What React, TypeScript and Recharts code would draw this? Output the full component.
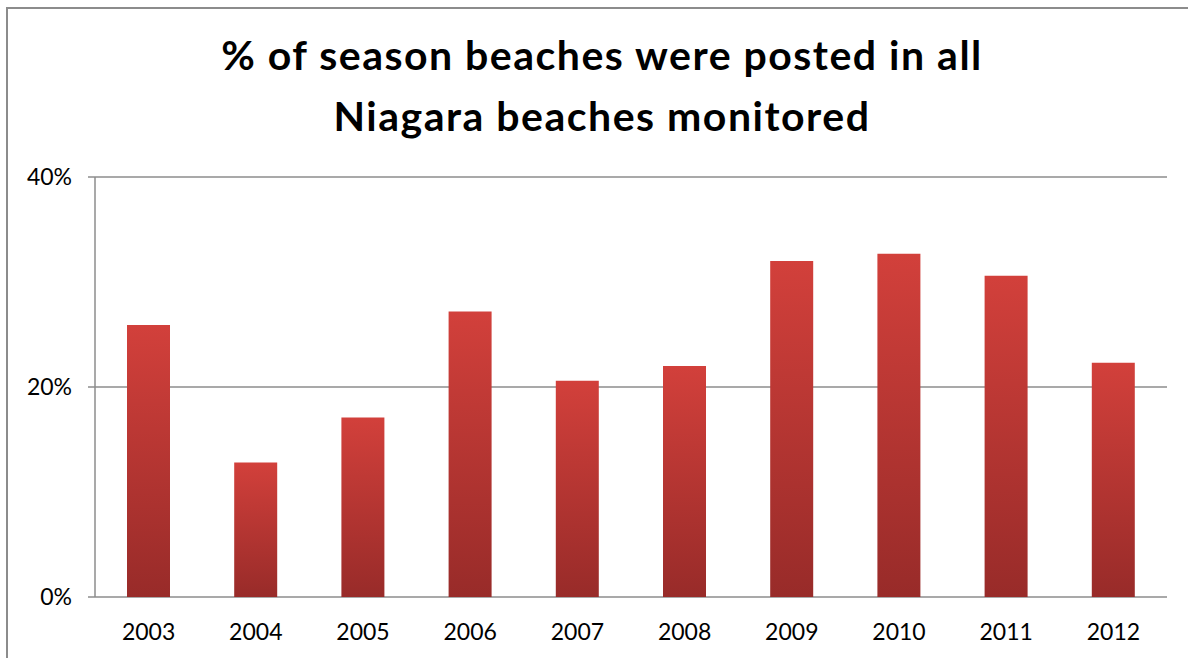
import { BarChart, Bar, XAxis, YAxis, CartesianGrid } from 'recharts';

const years = ['2003', '2004', '2005', '2006', '2007', '2008', '2009', '2010', '2011', '2012'];
const postedShare = [0.259, 0.128, 0.171, 0.272, 0.206, 0.22, 0.32, 0.327, 0.306, 0.223];
const yTicks = [0, 0.2, 0.4];
const boundaryTicks = [0, 1, 2, 3, 4, 5, 6, 7, 8, 9, 10];

const chartData = years.map((year, i) => ({ year, share: postedShare[i] }));

const FONT = 'Lato, "Open Sans", sans-serif';
const AXIS_GRAY = '#8c8c8c';

export default function App() {
    return (
        <div
            style={{
                position: 'absolute',
                left: 0,
                top: 0,
                width: 1188,
                height: 658,
                overflow: 'hidden',
                background: 'white',
                fontFamily: FONT,
            }}
        >
            {/* chart frame, only left and top edges are inside the picture */}
            <div
                style={{
                    position: 'absolute',
                    left: 6,
                    top: 7,
                    width: 1400,
                    height: 900,
                    border: `2px solid ${AXIS_GRAY}`,
                    boxSizing: 'border-box',
                }}
            />
            <div
                style={{
                    position: 'absolute',
                    left: 0,
                    top: 24,
                    width: 1204,
                    textAlign: 'center',
                    fontSize: 41,
                    fontWeight: 700,
                    letterSpacing: 1.5,
                    lineHeight: '61px',
                    color: '#000',
                }}
            >
                % of season beaches were posted in all
                <br />
                Niagara beaches monitored
            </div>
            <div style={{ position: 'absolute', left: 0, top: 0 }}>
                <BarChart
                    width={1188}
                    height={658}
                    data={chartData}
                    margin={{ top: 177, right: 21, bottom: 0, left: 0 }}
                >
                    <defs>
                        <linearGradient id="barFill" x1="0" y1="0" x2="0" y2="1">
                            <stop offset="0%" stopColor="#d2403b" />
                            <stop offset="100%" stopColor="#982b29" />
                        </linearGradient>
                    </defs>
                    <CartesianGrid vertical={false} stroke={AXIS_GRAY} strokeWidth={1.5} />
                    <XAxis
                        xAxisId="bounds"
                        type="number"
                        dataKey={() => 0}
                        domain={[0, 10]}
                        ticks={boundaryTicks}
                        tick={() => <g />}
                        height={0}
                        tickSize={7}
                        tickLine={{ stroke: AXIS_GRAY, strokeWidth: 1.5 }}
                        stroke={AXIS_GRAY}
                        strokeWidth={1.5}
                    />
                    <XAxis
                        xAxisId="cat"
                        dataKey="year"
                        height={61}
                        axisLine={false}
                        tickLine={false}
                        tickMargin={21}
                        tick={{ fill: '#000', fontSize: 23, fontFamily: FONT }}
                        interval={0}
                    />
                    <YAxis
                        width={95}
                        domain={[0, 0.4]}
                        ticks={yTicks}
                        tickFormatter={(v: number) => `${Math.round(v * 100)}%`}
                        tick={{ fill: '#000', fontSize: 23, fontFamily: FONT }}
                        tickSize={7}
                        tickMargin={16}
                        stroke={AXIS_GRAY}
                        strokeWidth={1.5}
                    />
                    <Bar
                        xAxisId="cat"
                        dataKey="share"
                        fill="url(#barFill)"
                        barSize={43}
                        isAnimationActive={false}
                    />
                </BarChart>
            </div>
        </div>
    );
}
